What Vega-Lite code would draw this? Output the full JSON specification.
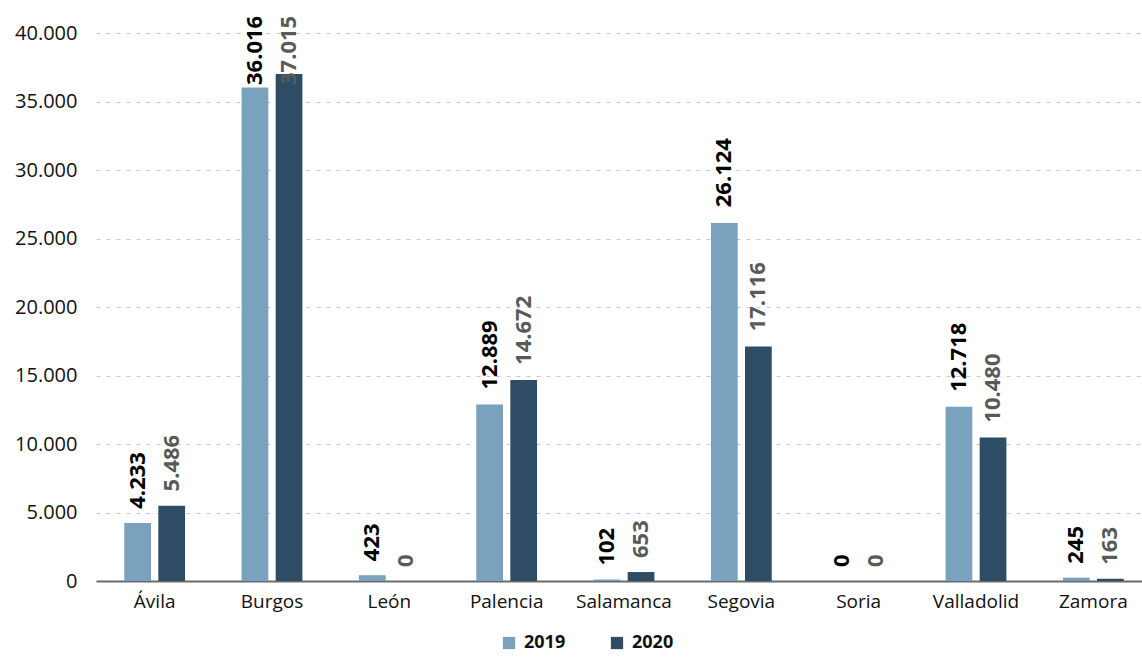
{
  "$schema": "https://vega.github.io/schema/vega-lite/v6.json",
  "autosize": {"type": "none"},
  "padding": {"left": 96, "top": 33, "right": 0, "bottom": 76},
  "width": 1046,
  "height": 548,
  "config": {
    "view": {"stroke": null},
    "font": "Open Sans",
    "locale": {"number": {"decimal": ",", "thousands": ".", "grouping": [3], "currency": ["", " €"]}}
  },
  "data": {
    "values": [
      {"province": "Ávila", "year": "2019", "value": 4233},
      {"province": "Ávila", "year": "2020", "value": 5486},
      {"province": "Burgos", "year": "2019", "value": 36016},
      {"province": "Burgos", "year": "2020", "value": 37015},
      {"province": "León", "year": "2019", "value": 423},
      {"province": "León", "year": "2020", "value": 0},
      {"province": "Palencia", "year": "2019", "value": 12889},
      {"province": "Palencia", "year": "2020", "value": 14672},
      {"province": "Salamanca", "year": "2019", "value": 102},
      {"province": "Salamanca", "year": "2020", "value": 653},
      {"province": "Segovia", "year": "2019", "value": 26124},
      {"province": "Segovia", "year": "2020", "value": 17116},
      {"province": "Soria", "year": "2019", "value": 0},
      {"province": "Soria", "year": "2020", "value": 0},
      {"province": "Valladolid", "year": "2019", "value": 12718},
      {"province": "Valladolid", "year": "2020", "value": 10480},
      {"province": "Zamora", "year": "2019", "value": 245},
      {"province": "Zamora", "year": "2020", "value": 163}
    ]
  },
  "encoding": {
    "x": {
      "field": "province", "type": "nominal", "sort": null,
      "scale": {"range": [0, 1056], "paddingInner": 0, "paddingOuter": 0},
      "axis": {
        "title": null, "labelAngle": 0, "ticks": false,
        "labelFontSize": 19, "labelColor": "#111111", "labelPadding": 11,
        "domainColor": "#6b6b6b", "domainWidth": 2, "grid": false
      }
    },
    "xOffset": {
      "field": "year", "type": "nominal",
      "scale": {"paddingInner": 0.215, "paddingOuter": 0.83}
    }
  },
  "layer": [
    {
      "mark": {"type": "bar"},
      "encoding": {
        "y": {
          "field": "value", "type": "quantitative",
          "scale": {"domain": [0, 40000], "nice": false},
          "axis": {
            "title": null, "values": [0, 5000, 10000, 15000, 20000, 25000, 30000, 35000, 40000],
            "format": ",d", "domain": false, "ticks": false,
            "labelFontSize": 20, "labelColor": "#111111", "labelPadding": 19,
            "gridColor": "#c8c8c8", "gridDash": [4, 6], "gridWidth": 1
          }
        },
        "color": {
          "field": "year", "type": "nominal",
          "scale": {"domain": ["2019", "2020"], "range": ["#7aa2bf", "#2e4c64"]},
          "legend": {
            "title": null, "orient": "none", "direction": "horizontal",
            "legendX": 404, "legendY": 601,
            "symbolType": "square", "symbolSize": 150, "symbolStrokeWidth": 0,
            "labelFontSize": 18, "labelFontWeight": "bold", "labelColor": "#111111",
            "labelOffset": 6, "columnPadding": 42
          }
        }
      }
    },
    {
      "mark": {
        "type": "text", "angle": 270, "align": "left", "baseline": "middle",
        "dx": 14, "fontSize": 22, "fontWeight": "bold"
      },
      "encoding": {
        "y": {
          "field": "value", "type": "quantitative",
          "scale": {"domain": [0, 35000], "range": [548, 66], "clamp": true, "nice": false, "zero": true},
          "axis": null
        },
        "text": {"field": "value", "type": "quantitative", "format": ",d"},
        "color": {
          "condition": {"test": "datum.year === '2019'", "value": "#000000"},
          "value": "#595959"
        }
      }
    }
  ],
  "resolve": {"scale": {"y": "independent"}}
}
